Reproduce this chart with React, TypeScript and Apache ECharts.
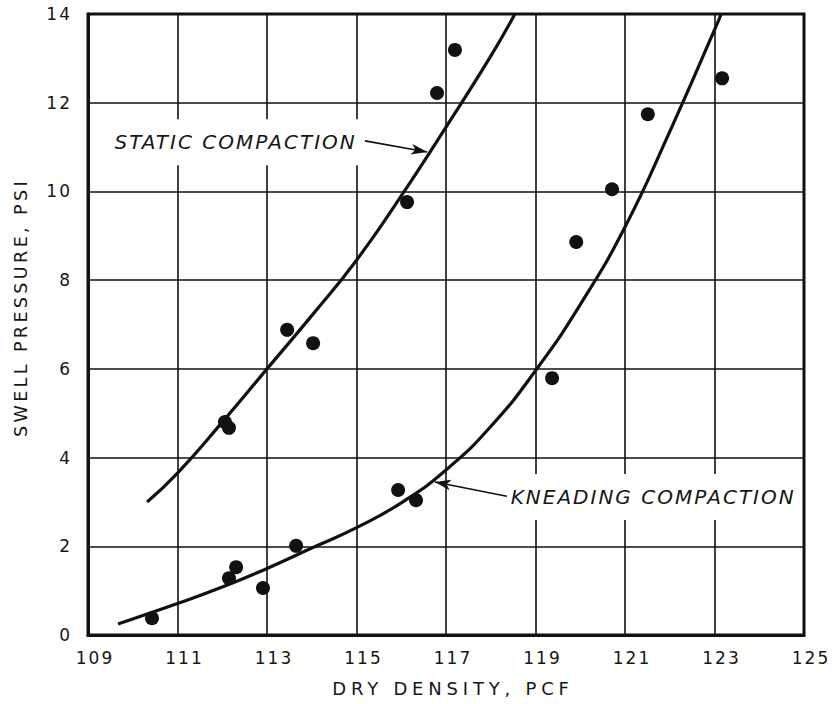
import React, { useEffect, useRef } from "react";
import * as echarts from "echarts";

// Measured points
const staticX = [112.06, 112.15, 113.45, 114.03, 116.13, 116.8, 117.2];
const staticY = [4.8, 4.67, 6.88, 6.58, 9.76, 12.22, 13.19];
const kneadX = [110.43, 112.15, 112.31, 112.91, 113.65, 115.93, 116.33, 119.37, 119.91, 120.71, 121.51, 123.17];
const kneadY = [0.38, 1.28, 1.53, 1.06, 2.01, 3.27, 3.04, 5.79, 8.86, 10.05, 11.74, 12.55];

// Fitted curves
const staticCurveX = [110.32, 111, 112, 113, 114, 115, 116, 117, 118, 118.54];
const staticCurveY = [3.0, 3.65, 4.8, 6.0, 7.2, 8.45, 9.9, 11.45, 13.05, 14.0];
const kneadCurveX = [109.67, 111, 112, 113, 114, 115, 116, 117, 118, 119, 120, 121, 122, 123, 123.15];
const kneadCurveY = [0.25, 0.71, 1.08, 1.5, 1.96, 2.42, 2.98, 3.72, 4.7, 5.96, 7.45, 9.2, 11.35, 13.64, 14.0];

// Annotations
const staticLabelText = "STATIC COMPACTION";
const staticLabelAt = [112.3, 11.11];
const staticArrowFrom = [115.19, 11.14];
const staticArrowTo = [116.58, 10.89];
const kneadLabelText = "KNEADING COMPACTION";
const kneadLabelAt = [121.63, 3.11];
const kneadArrowFrom = [118.36, 3.13];
const kneadArrowTo = [116.75, 3.45];

const xName = "DRY DENSITY, PCF";
const yName = "SWELL PRESSURE, PSI";

const INK = "#111";
const TEXT = "#161616";
const FONT = "DejaVu Sans";

const zip = (xs: number[], ys: number[]) => xs.map((x, i) => [x, ys[i]]);

const css = `
body { margin: 0; }
#root svg text[style*="17px"] { letter-spacing: 2px; }
#root svg text[style*="18px"] { letter-spacing: 4.8px; }
#root svg text[style*="17.5px"] { letter-spacing: 3.4px; }
#root svg text[style*="italic"] { letter-spacing: 2px; }
`;

function labelPoint(text: string, at: number[]) {
  return {
    coord: at,
    symbol: "rect",
    symbolSize: 1,
    itemStyle: { color: "rgba(0,0,0,0)" },
    label: {
      show: true,
      position: "inside",
      formatter: text,
      color: TEXT,
      fontFamily: FONT,
      fontSize: 20,
      fontStyle: "italic",
      backgroundColor: "#fff",
      padding: [13, 22, 13, 22],
    },
  };
}

function arrowLine(from: number[], to: number[]) {
  return [
    { coord: from, symbol: "none" },
    { coord: to, symbol: "arrow", symbolSize: [8, 16] },
  ];
}

function arrowMarkLine(from: number[], to: number[]) {
  return {
    silent: true,
    symbol: ["none", "arrow"],
    symbolSize: [0, 14],
    label: { show: false },
    emphasis: { disabled: true },
    lineStyle: { color: INK, width: 1.6, type: "solid" },
    itemStyle: { color: INK },
    data: [arrowLine(from, to)],
  };
}

export default function App() {
  const ref = useRef<HTMLDivElement>(null);
  useEffect(() => {
    const chart = echarts.init(ref.current!, null, { renderer: "svg" });
    const option: any = {
      animation: false,
      backgroundColor: "#fff",
      grid: {
        left: 88,
        right: 33,
        top: 14,
        bottom: 69,
        show: true,
        borderColor: INK,
        borderWidth: 3,
        backgroundColor: "transparent",
      },
      xAxis: {
        type: "value",
        min: 109,
        max: 125,
        interval: 2,
        name: xName,
        nameLocation: "middle",
        nameGap: 44,
        nameTextStyle: { fontFamily: FONT, fontSize: 18, color: TEXT, padding: [0, 0, 0, 14] },
        axisLine: { show: true, lineStyle: { color: INK, width: 3 } },
        axisTick: { show: false },
        axisLabel: { fontFamily: FONT, fontSize: 17, color: TEXT, margin: 14, padding: [0, 0, 0, 14] },
        splitLine: { show: true, lineStyle: { color: INK, width: 1.6 } },
      },
      yAxis: {
        type: "value",
        min: 0,
        max: 14,
        interval: 2,
        name: yName,
        nameLocation: "middle",
        nameRotate: 90,
        nameGap: 58,
        nameTextStyle: { fontFamily: FONT, fontSize: 17.5, color: TEXT, padding: [0, 0, 0, 34] },
        axisLine: { show: true, lineStyle: { color: INK, width: 3 } },
        axisTick: { show: false },
        axisLabel: { fontFamily: FONT, fontSize: 17, color: TEXT, margin: 16 },
        splitLine: { show: true, lineStyle: { color: INK, width: 1.6 } },
      },
      series: [
        {
          name: "Static compaction curve",
          type: "line",
          data: zip(staticCurveX, staticCurveY),
          smooth: 0.5,
          showSymbol: false,
          silent: true,
          lineStyle: { color: INK, width: 3.2 },
          markLine: arrowMarkLine(staticArrowFrom, staticArrowTo),
          markPoint: {
            silent: true,
            data: [labelPoint(staticLabelText, staticLabelAt)],
          },
        },
        {
          name: "Kneading compaction curve",
          type: "line",
          data: zip(kneadCurveX, kneadCurveY),
          smooth: 0.5,
          showSymbol: false,
          silent: true,
          lineStyle: { color: INK, width: 3.2 },
          markLine: arrowMarkLine(kneadArrowFrom, kneadArrowTo),
          markPoint: {
            silent: true,
            data: [labelPoint(kneadLabelText, kneadLabelAt)],
          },
        },
        {
          name: "Static compaction",
          type: "scatter",
          data: zip(staticX, staticY),
          symbolSize: 14,
          itemStyle: { color: INK, opacity: 1 },
        },
        {
          name: "Kneading compaction",
          type: "scatter",
          data: zip(kneadX, kneadY),
          symbolSize: 14,
          itemStyle: { color: INK, opacity: 1 },
        },
      ],
    };
    chart.setOption(option);
    return () => chart.dispose();
  }, []);
  return (
    <>
      <style>{css}</style>
      <div ref={ref} style={{ width: 837, height: 704 }} />
    </>
  );
}
